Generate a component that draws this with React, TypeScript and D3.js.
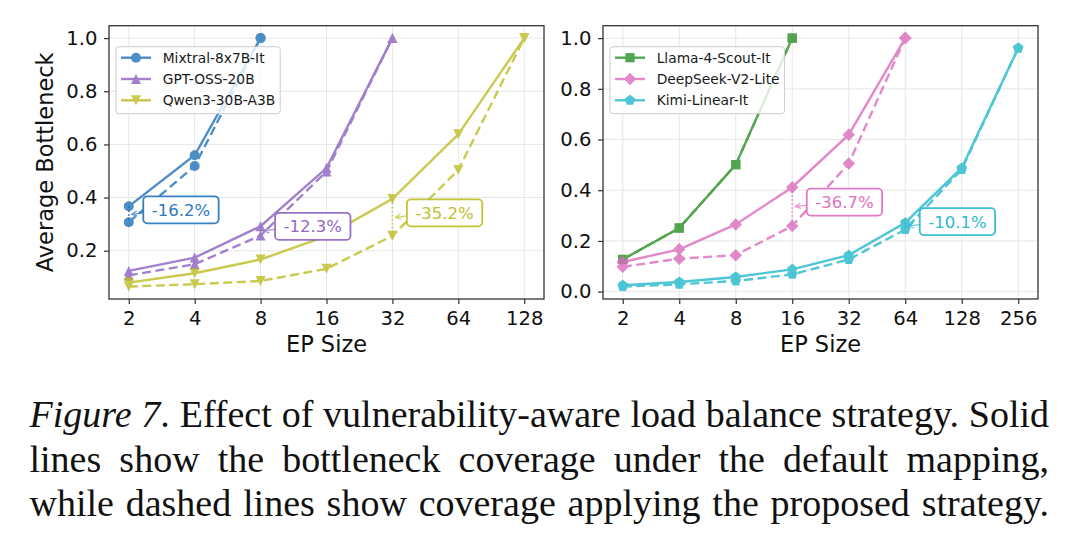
import { useEffect, useRef } from 'react';
import * as d3 from 'd3';

// EP sizes on the x axis of each panel
const EP_LEFT = [2, 4, 8, 16, 32, 64, 128];
const EP_RIGHT = [2, 4, 8, 16, 32, 64, 128, 256];

// left panel: default mapping (solid) and proposed strategy (dashed)
const mixtralDefault = [0.367, 0.559, 1.0];
const mixtralProposed = [0.307, 0.519, 1.0];
const gptDefault = [0.124, 0.174, 0.292, 0.511, 1.0];
const gptProposed = [0.107, 0.149, 0.257, 0.498, 1.0];
const qwenDefault = [0.08, 0.115, 0.167, 0.255, 0.395, 0.638, 1.0];
const qwenProposed = [0.065, 0.074, 0.086, 0.132, 0.256, 0.504, 1.0];

// right panel
const llamaDefault = [0.127, 0.251, 0.501, 1.0];
const llamaProposed = [0.127, 0.251, 0.501, 1.0];
const deepseekDefault = [0.117, 0.167, 0.265, 0.412, 0.619, 1.0];
const deepseekProposed = [0.098, 0.13, 0.144, 0.259, 0.505, 1.0];
const kimiDefault = [0.025, 0.038, 0.058, 0.088, 0.144, 0.272, 0.488, 0.961];
const kimiProposed = [0.02, 0.029, 0.042, 0.068, 0.127, 0.245, 0.482, 0.961];

const CAPTION_LINES = [
  'Figure 7. Effect of vulnerability-aware load balance strategy. Solid',
  'lines show the bottleneck coverage under the default mapping,',
  'while dashed lines show coverage applying the proposed strategy.',
];

type Marker = 'o' | '^' | 'v' | 's' | 'D' | 'p';

interface Series {
  name: string;
  color: string;
  marker: Marker;
  solid: number[];
  dashed: number[];
}

interface Note {
  name: string;
  ep: number;
  label: string;
}

interface Panel {
  ep: number[];
  xRange: [number, number];
  series: Series[];
  notes: Note[];
  legendX: number;
  yLabel: boolean;
}

const LEFT_SERIES: Series[] = [
  { name: 'Mixtral-8x7B-It', color: '#2272b8', marker: 'o', solid: mixtralDefault, dashed: mixtralProposed },
  { name: 'GPT-OSS-20B', color: '#8c62c0', marker: '^', solid: gptDefault, dashed: gptProposed },
  { name: 'Qwen3-30B-A3B', color: '#bcbd22', marker: 'v', solid: qwenDefault, dashed: qwenProposed },
];

const RIGHT_SERIES: Series[] = [
  { name: 'Llama-4-Scout-It', color: '#2a8f24', marker: 's', solid: llamaDefault, dashed: llamaProposed },
  { name: 'DeepSeek-V2-Lite', color: '#dc6cbd', marker: 'D', solid: deepseekDefault, dashed: deepseekProposed },
  { name: 'Kimi-Linear-It', color: '#22b8cc', marker: 'p', solid: kimiDefault, dashed: kimiProposed },
];

const LEFT_NOTES: Note[] = [
  { name: 'Mixtral-8x7B-It', ep: 2, label: '-16.2%' },
  { name: 'GPT-OSS-20B', ep: 8, label: '-12.3%' },
  { name: 'Qwen3-30B-A3B', ep: 32, label: '-35.2%' },
];

const RIGHT_NOTES: Note[] = [
  { name: 'DeepSeek-V2-Lite', ep: 16, label: '-36.7%' },
  { name: 'Kimi-Linear-It', ep: 64, label: '-10.1%' },
];

const W = 1080;
const H = 548;
const PLOT_TOP = 25.7;
const PLOT_BOTTOM = 299;
const ALPHA = 0.8;
const SANS = 'DejaVu Sans, sans-serif';
const SERIF = '"Liberation Serif", "Times New Roman", serif';

const PANELS: Panel[] = [
  { ep: EP_LEFT, xRange: [109, 544], series: LEFT_SERIES, notes: LEFT_NOTES, legendX: 116, yLabel: true },
  { ep: EP_RIGHT, xRange: [603, 1038], series: RIGHT_SERIES, notes: RIGHT_NOTES, legendX: 610, yLabel: false },
];

function markerPath(type: Marker, r: number): string {
  switch (type) {
    case 'o':
      return d3.symbol(d3.symbolCircle, Math.PI * r * r)() as string;
    case '^':
      return `M0,${-r}L${r},${r}L${-r},${r}Z`;
    case 'v':
      return `M0,${r}L${r},${-r}L${-r},${-r}Z`;
    case 's': {
      const h = r * 0.92;
      return `M${-h},${-h}H${h}V${h}H${-h}Z`;
    }
    case 'D': {
      const h = r * 1.25;
      return `M0,${-h}L${h},0L0,${h}L${-h},0Z`;
    }
    case 'p': {
      const pr = r * 1.1;
      const pts = d3.range(5).map((i) => {
        const a = -Math.PI / 2 + (i * 2 * Math.PI) / 5;
        return [pr * Math.cos(a), pr * Math.sin(a)];
      });
      return 'M' + pts.map((p) => p.join(',')).join('L') + 'Z';
    }
  }
}

export default function App() {
  const svgRef = useRef<SVGSVGElement>(null);

  useEffect(() => {
    if (!svgRef.current) return;
    const svg = d3.select(svgRef.current);
    svg.selectAll('*').remove();

    PANELS.forEach((panel) => {
      const ep = panel.ep;
      const xPad = Math.log2(ep[ep.length - 1] / ep[0]) * 0.05;
      const x = d3
        .scaleLog()
        .base(2)
        .domain([ep[0] / 2 ** xPad, ep[ep.length - 1] * 2 ** xPad])
        .range(panel.xRange);

      const all = panel.series.flatMap((s) => [...s.solid, ...s.dashed]);
      const [lo, hi] = d3.extent(all) as [number, number];
      const yPad = (hi - lo) * 0.05;
      const y = d3.scaleLinear().domain([lo - yPad, hi + yPad]).range([PLOT_BOTTOM, PLOT_TOP]);
      const yTicks = y.ticks(5);

      const [x0, x1] = panel.xRange;
      const g = svg.append('g');

      // grid
      g.append('g')
        .selectAll('line')
        .data(ep)
        .join('line')
        .attr('x1', (d) => x(d))
        .attr('x2', (d) => x(d))
        .attr('y1', PLOT_TOP)
        .attr('y2', PLOT_BOTTOM)
        .attr('stroke', '#e6e6e6')
        .attr('stroke-width', 1);
      g.append('g')
        .selectAll('line')
        .data(yTicks)
        .join('line')
        .attr('x1', x0)
        .attr('x2', x1)
        .attr('y1', (d) => y(d))
        .attr('y2', (d) => y(d))
        .attr('stroke', '#e6e6e6')
        .attr('stroke-width', 1);

      // series lines + markers
      panel.series.forEach((s) => {
        const line = d3
          .line<number>()
          .x((_, i) => x(ep[i]))
          .y((d) => y(d));
        const sg = g.append('g').attr('opacity', ALPHA);
        sg.append('path')
          .attr('d', line(s.solid))
          .attr('fill', 'none')
          .attr('stroke', s.color)
          .attr('stroke-width', 2.4);
        sg.append('path')
          .attr('d', line(s.dashed))
          .attr('fill', 'none')
          .attr('stroke', s.color)
          .attr('stroke-width', 2.4)
          .attr('stroke-dasharray', '9,4.5');
        [s.solid, s.dashed].forEach((vals) => {
          sg.append('g')
            .selectAll('path')
            .data(vals)
            .join('path')
            .attr('d', markerPath(s.marker, 5))
            .attr('transform', (d, i) => `translate(${x(ep[i])},${y(d)})`)
            .attr('fill', s.color);
        });
      });

      // improvement annotations
      panel.notes.forEach((n) => {
        const s = panel.series.find((d) => d.name === n.name)!;
        const i = ep.indexOf(n.ep);
        const px = x(n.ep);
        const ys = y(s.solid[i]);
        const yd = y(s.dashed[i]);
        const mid = (ys + yd) / 2;
        const ag = g.append('g');
        ag.append('line')
          .attr('x1', px)
          .attr('x2', px)
          .attr('y1', ys)
          .attr('y2', yd)
          .attr('stroke', s.color)
          .attr('stroke-width', 1.6)
          .attr('stroke-dasharray', '1.6,2.4')
          .attr('opacity', ALPHA);

        const text = ag
          .append('text')
          .attr('font-family', SANS)
          .attr('font-size', 16.5)
          .attr('fill', s.color)
          .attr('opacity', 0.95)
          .text(n.label);
        const tw = (text.node() as SVGTextElement).getComputedTextLength();
        const padX = 8.5;
        const bh = 27;
        const bx = px + 14.5;
        const cy = mid - 4.5;
        const bw = tw + padX * 2;

        // arrow
        const ax = bx;
        const ay = cy + 3;
        const tx = px + 3;
        const ty = mid;
        const ang = Math.atan2(ty - ay, tx - ax);
        const hl = 6;
        ag.append('path')
          .attr(
            'd',
            `M${ax},${ay}L${tx},${ty}` +
              `M${tx - hl * Math.cos(ang - 0.45)},${ty - hl * Math.sin(ang - 0.45)}L${tx},${ty}` +
              `L${tx - hl * Math.cos(ang + 0.45)},${ty - hl * Math.sin(ang + 0.45)}`
          )
          .attr('fill', 'none')
          .attr('stroke', s.color)
          .attr('stroke-width', 1.3)
          .attr('opacity', 0.7);

        ag.insert('rect', 'text')
          .attr('x', bx)
          .attr('y', cy - bh / 2)
          .attr('width', bw)
          .attr('height', bh)
          .attr('rx', 4)
          .attr('fill', 'white')
          .attr('stroke', s.color)
          .attr('stroke-width', 1.8)
          .attr('stroke-opacity', ALPHA + 0.1);
        text.attr('x', bx + padX).attr('y', cy).attr('dy', '0.36em');
      });

      // legend
      const lg = g.append('g').attr('transform', `translate(${panel.legendX},46.7)`);
      const rowGap = 21.3;
      const box = lg
        .append('rect')
        .attr('rx', 3)
        .attr('fill', 'white')
        .attr('fill-opacity', 0.8)
        .attr('stroke', '#cccccc')
        .attr('stroke-width', 1);
      let maxW = 0;
      panel.series.forEach((s, k) => {
        const ry = 11 + k * rowGap;
        const row = lg.append('g');
        const inner = row.append('g').attr('opacity', ALPHA);
        inner
          .append('line')
          .attr('x1', 5)
          .attr('x2', 35)
          .attr('y1', ry)
          .attr('y2', ry)
          .attr('stroke', s.color)
          .attr('stroke-width', 2.4);
        inner
          .append('path')
          .attr('d', markerPath(s.marker, 5))
          .attr('transform', `translate(20,${ry})`)
          .attr('fill', s.color);
        const t = row
          .append('text')
          .attr('x', 46.7)
          .attr('y', ry)
          .attr('dy', '0.36em')
          .attr('font-family', SANS)
          .attr('font-size', 13.8)
          .attr('fill', '#1a1a1a')
          .text(s.name);
        maxW = Math.max(maxW, (t.node() as SVGTextElement).getComputedTextLength());
      });
      box.attr('width', 46.7 + maxW + 5).attr('height', 67);

      // axes
      const xAxis = d3
        .axisBottom(x)
        .tickValues(ep)
        .tickFormat((d) => String(d))
        .tickSize(5)
        .tickPadding(7.5);
      const yAxis = d3.axisLeft(y).tickValues(yTicks).tickFormat(d3.format('.1f')).tickSize(5).tickPadding(6.5);
      const gx = g.append('g').attr('transform', `translate(0,${PLOT_BOTTOM})`).call(xAxis);
      const gy = g.append('g').attr('transform', `translate(${x0},0)`).call(yAxis);
      [gx, gy].forEach((a) => {
        a.select('.domain').remove();
        a.selectAll('line').attr('stroke', '#333').attr('stroke-width', 1.2);
        a.selectAll('text').attr('font-family', SANS).attr('font-size', 19.6).attr('fill', '#111');
      });

      // spines
      g.append('rect')
        .attr('x', x0)
        .attr('y', PLOT_TOP)
        .attr('width', x1 - x0)
        .attr('height', PLOT_BOTTOM - PLOT_TOP)
        .attr('fill', 'none')
        .attr('stroke', '#333')
        .attr('stroke-width', 1.3);

      g.append('text')
        .attr('x', (x0 + x1) / 2)
        .attr('y', 352)
        .attr('text-anchor', 'middle')
        .attr('font-family', SANS)
        .attr('font-size', 22.5)
        .attr('fill', '#111')
        .text('EP Size');

      if (panel.yLabel) {
        g.append('text')
          .attr('transform', `translate(53,${(PLOT_TOP + PLOT_BOTTOM) / 2}) rotate(-90)`)
          .attr('text-anchor', 'middle')
          .attr('font-family', SANS)
          .attr('font-size', 22.5)
          .attr('fill', '#111')
          .text('Average Bottleneck');
      }
    });

    // caption, justified between two edges
    const capLeft = 29.5;
    const capRight = 1049;
    const baselines = [427.3, 471.5, 515.5];
    const cap = svg.append('g').attr('font-family', SERIF).attr('font-size', 38).attr('fill', '#111');
    CAPTION_LINES.forEach((lineText, li) => {
      const words = lineText.split(' ');
      const nodes = words.map((w, wi) => {
        const t = cap.append('text').attr('y', baselines[li]);
        if (li === 0 && wi === 0) {
          t.append('tspan').attr('font-style', 'italic').text(w);
        } else if (li === 0 && wi === 1) {
          t.append('tspan').attr('font-style', 'italic').text(w.replace('.', ''));
          t.append('tspan').text('.');
        } else {
          t.text(w);
        }
        return t;
      });
      const widths = nodes.map((t) => (t.node() as SVGTextElement).getComputedTextLength());
      const gap = (capRight - capLeft - d3.sum(widths)) / (words.length - 1);
      let cx = capLeft;
      nodes.forEach((t, k) => {
        t.attr('x', cx);
        cx += widths[k] + gap;
      });
    });
  }, []);

  return (
    <svg
      ref={svgRef}
      width={W}
      height={H}
      viewBox={`0 0 ${W} ${H}`}
      style={{ position: 'absolute', left: 0, top: 0, background: 'white' }}
    />
  );
}
